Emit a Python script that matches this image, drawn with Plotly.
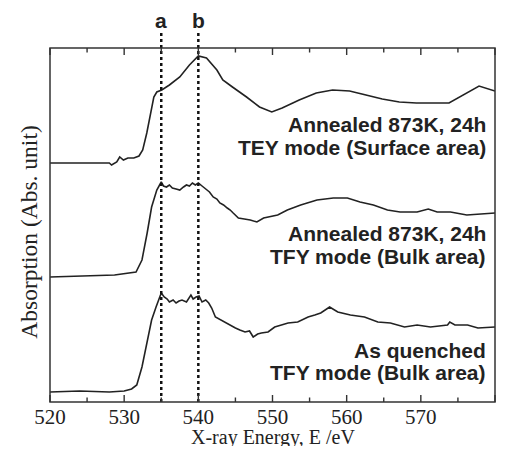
import plotly.graph_objects as go

# X-ray energy (eV) and absorption (arbitrary units, offset per curve)
tey_energy = [520, 524, 528.0, 528.3, 529.0, 529.4, 529.9, 530.5, 531.3, 532.0, 532.5, 533.05, 533.7,
              534.0, 534.4, 535.07, 536.1, 537.5, 538.8, 540.0, 541.1, 542.5, 543.3, 543.9, 544.6,
              546.5, 548.25, 549.9, 551.3, 553.6, 555.9, 558.1, 560.4, 562.6, 564.8, 567.1,
              569.4, 573.8, 577.85, 580]
tey_abs = [239, 239, 239, 237, 240, 245, 242, 244, 244, 246, 252, 269, 292,
           305, 310, 312, 317, 325, 337, 346, 344, 332, 322, 319, 315,
           305, 295, 290, 294, 302, 309, 312, 311, 307, 303, 300,
           299, 299, 316, 311]

tfy_ann_energy = [520, 524, 528.7, 531.6, 532.4, 533.1, 533.7, 534.4, 535.0, 535.3, 535.7, 536.1, 536.5,
                  537.0, 537.5, 538.0, 538.4, 538.8, 539.2, 539.6, 540.0, 540.5, 541.1, 541.5, 542.0,
                  542.5, 542.9, 543.4, 543.9, 544.3, 544.7, 545.4, 546.2, 547.0, 547.9, 548.8,
                  550.7, 552.0, 553.8, 556.0, 558.2, 560.1, 561.8, 563.6, 565.5, 567.2, 569.5,
                  571.0, 572.2, 574.0, 576.2, 578.0, 580]
tfy_ann_abs = [125, 126, 127, 130, 142, 169, 195, 212, 220, 216, 215, 217, 214,
               213, 212, 215, 217, 216, 219, 217, 219, 216, 212, 210, 205,
               203, 199, 197, 194, 192, 189, 184, 183, 182, 180, 184,
               187, 192, 197, 202, 204, 204, 200, 197, 192, 190, 190,
               193, 190, 190, 187, 188, 189]

quench_energy = [520, 524, 528, 530.0, 531.0, 531.7, 532.4, 533.1, 533.7, 534.3, 535.0, 535.4, 535.8,
                 536.1, 536.6, 537.0, 537.4, 537.8, 538.4, 539.0, 539.3, 539.7, 540.1, 540.5, 541.0,
                 541.4, 541.8, 542.3, 543.0, 543.7, 544.3, 545.0, 545.6, 546.3, 546.9, 547.4,
                 548.0, 548.5, 549.4, 550.3, 551.2, 552.1, 553.4, 554.8, 555.7, 556.5, 557.7,
                 558.8, 560.5, 562.4, 564.2, 565.9, 567.8, 569.5, 571.3, 573.6, 573.9, 574.6,
                 576.3, 577.7, 580]
quench_abs = [10, 11, 10, 11, 13, 17, 35, 59, 82, 95, 109, 105, 103,
              100, 102, 99, 101, 102, 100, 107, 103, 105, 106, 100, 102,
              99, 94, 85, 82, 79, 77, 74, 72, 70, 71, 65,
              68, 69, 70, 75, 77, 79, 80, 85, 87, 89, 95,
              90, 87, 85, 80, 79, 75, 77, 75, 77, 80, 77,
              77, 74, 75]

x_min, x_max = 520, 580
major_ticks = [520, 530, 540, 550, 560, 570, 580]
minor_ticks = [525, 535, 545, 555, 565, 575]

marker_energy = [535, 540]
marker_labels = ["a", "b"]

label_lines = [
    ("Annealed 873K, 24h", 278),
    ("TEY mode (Surface area)", 255),
    ("Annealed 873K, 24h", 169),
    ("TFY mode (Bulk area)", 146),
    ("As quenched", 52),
    ("TFY mode (Bulk area)", 30),
]

ink = "#222222"
frame = "#333333"
plot_h = 354.0

fig = go.Figure()
for xs, ys in [(tey_energy, tey_abs), (tfy_ann_energy, tfy_ann_abs), (quench_energy, quench_abs)]:
    fig.add_trace(go.Scatter(x=xs, y=ys, mode="lines", line=dict(color=ink, width=1.6),
                             showlegend=False, hoverinfo="skip"))

for e, lab in zip(marker_energy, marker_labels):
    fig.add_shape(type="line", xref="x", yref="paper", x0=e, x1=e, y0=0, y1=1.045,
                  line=dict(color="#111111", width=2.5, dash="dot"))
    fig.add_annotation(x=e, xref="x", y=1.079, yref="paper", text="<b>%s</b>" % lab,
                       showarrow=False, xanchor="center", yanchor="middle",
                       font=dict(family="Liberation Sans, Arial", size=21, color=ink))

for text, yv in label_lines:
    fig.add_annotation(x=579.06, xref="x", y=yv, yref="y", text="<b>%s</b>" % text,
                       showarrow=False, xanchor="right", yanchor="middle",
                       font=dict(family="Liberation Sans, Arial", size=21, color=ink))

fig.add_annotation(x=0.5, xref="paper", y=-0.1, yref="paper", text="X-ray Energy, E /eV",
                   showarrow=False, xanchor="center", yanchor="middle",
                   font=dict(family="Liberation Serif, Times New Roman", size=20, color=ink))
fig.add_annotation(x=-0.048, xref="paper", y=0.48, yref="paper", text="Absorption (Abs. unit)",
                   showarrow=False, xanchor="center", yanchor="middle", textangle=-90,
                   font=dict(family="Liberation Serif, Times New Roman", size=23.5, color=ink))

# frame
fig.add_shape(type="rect", xref="paper", yref="paper", x0=0, x1=1, y0=0, y1=1,
              line=dict(color=frame, width=1.5), layer="above")
# inward ticks on bottom and top, one path in paper coordinates
segs = []
for vals, length_px in [(major_ticks, 7.0), (minor_ticks, 4.5)]:
    L = length_px / plot_h
    for v in vals:
        px = (v - x_min) / (x_max - x_min)
        segs.append("M %.5f,0 L %.5f,%.5f" % (px, px, L))
        segs.append("M %.5f,1 L %.5f,%.5f" % (px, px, 1 - L))
fig.add_shape(type="path", xref="paper", yref="paper", path=" ".join(segs),
              line=dict(color=frame, width=1.4), layer="above")

fig.update_layout(
    width=499, height=438,
    margin=dict(l=41.5, r=12, t=40, b=44, autoexpand=False),
    paper_bgcolor="white", plot_bgcolor="white",
    xaxis=dict(range=[x_min, x_max], tickvals=major_ticks, ticks="", showline=False,
               showgrid=False, zeroline=False,
               tickfont=dict(family="Liberation Serif, Times New Roman", size=21, color=ink)),
    yaxis=dict(range=[0, 354], showticklabels=False, ticks="", showline=False,
               showgrid=False, zeroline=False),
)

fig.write_html("out.html")
